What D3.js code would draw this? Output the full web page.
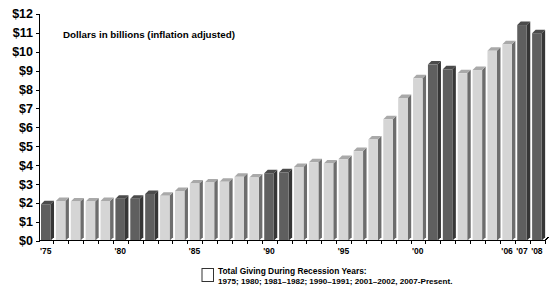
<!DOCTYPE html>
<html lang="en">
<head>
<meta charset="UTF-8">
<title>Giving in billions</title>
<script src="https://d3js.org/d3.v7.min.js"></script>
<style>
  body { margin: 0; background: #fff; }
  text { font-family: "Liberation Sans", Arial, sans-serif; font-weight: bold; fill: #000; }
  .axis path, .axis line { stroke: #000; shape-rendering: crispEdges; }
</style>
</head>
<body>
<script>

var years = d3.range(1975, 2009);
var values = [1.93, 2.1, 2.08, 2.07, 2.1, 2.22, 2.22, 2.47, 2.38, 2.63,
              3.02, 3.08, 3.12, 3.38, 3.34, 3.57, 3.62, 3.9, 4.15, 4.09,
              4.32, 4.74, 5.36, 6.43, 7.55, 8.6, 9.32, 9.07, 8.86, 9.03,
              10.05, 10.4, 11.41, 10.98];
var recessionYears = [1975, 1980, 1981, 1982, 1990, 1991, 2001, 2002, 2007, 2008];
var yTicks = [0, 1, 2, 3, 4, 5, 6, 7, 8, 9, 10, 11, 12];
var xLabels = {1975: "'75", 1980: "'80", 1985: "'85", 1990: "'90", 1995: "'95",
               2000: "'00", 2006: "'06", 2007: "'07", 2008: "'08"};

var data = years.map(function(y, i) { return {year: y, value: values[i]}; });

var width = 550, height = 290;
var x = d3.scaleBand().domain(years).range([39, 545]);
var y = d3.scaleLinear().domain([0, 12]).range([240.7, 13.9]);

var depth = 3.5, barW = x.bandwidth() * 0.64, off = 2;

var svg = d3.select("body").append("svg")
    .attr("width", width)
    .attr("height", height);

var colors = {
  light: {front: "#d5d5d5", side: "#6d6d6d", top: "#a9a9a9"},
  dark:  {front: "#5f5f5f", side: "#363636", top: "#4b4b4b"}
};

var bars = svg.selectAll(".bar")
    .data(data)
    .enter().append("g")
    .attr("class", "bar");

function col(d) { return recessionYears.indexOf(d.year) >= 0 ? colors.dark : colors.light; }

bars.append("path")
    .attr("fill", function(d) { return col(d).side; })
    .attr("d", function(d) {
      var x0 = x(d.year) + off + barW, y0 = y(d.value), yb = y(0);
      return "M" + x0 + "," + y0 + "L" + (x0 + depth) + "," + (y0 - depth) +
             "L" + (x0 + depth) + "," + (yb - depth) + "L" + x0 + "," + yb + "Z";
    });

bars.append("path")
    .attr("fill", function(d) { return col(d).top; })
    .attr("d", function(d) {
      var x0 = x(d.year) + off, y0 = y(d.value);
      return "M" + x0 + "," + y0 + "L" + (x0 + depth) + "," + (y0 - depth) +
             "L" + (x0 + barW + depth) + "," + (y0 - depth) + "L" + (x0 + barW) + "," + y0 + "Z";
    });

bars.append("rect")
    .attr("fill", function(d) { return col(d).front; })
    .attr("x", function(d) { return x(d.year) + off; })
    .attr("y", function(d) { return y(d.value); })
    .attr("width", barW)
    .attr("height", function(d) { return y(0) - y(d.value); });

// y axis
var yAxis = svg.append("g")
    .attr("class", "axis")
    .attr("transform", "translate(39,0)")
    .call(d3.axisLeft(y).tickValues(yTicks).tickSize(3).tickPadding(3)
      .tickFormat(function(d) { return "$" + d; }));
yAxis.selectAll("text").style("font-size", "12.5px");
yAxis.select(".domain").attr("stroke-width", 1.2);

// x axis: ticks at slot boundaries
var xAxis = svg.append("g").attr("class", "axis");
xAxis.append("line")
    .attr("x1", 39).attr("x2", 545)
    .attr("y1", y(0)).attr("y2", y(0))
    .attr("stroke-width", 1.2);
xAxis.append("path")
    .attr("fill", "none")
    .attr("stroke", "#000")
    .attr("d", "M545," + y(0) + "L" + (545 + depth) + "," + (y(0) - depth));
xAxis.selectAll(".tick")
    .data(years.slice(1).concat([2009]))
    .enter().append("line")
    .attr("x1", function(d) { return d === 2009 ? 545 : x(d); })
    .attr("x2", function(d) { return d === 2009 ? 545 : x(d); })
    .attr("y1", y(0)).attr("y2", y(0) + 3);
xAxis.selectAll(".lbl")
    .data(years.filter(function(d) { return xLabels[d]; }))
    .enter().append("text")
    .attr("x", function(d) { return x(d) + off + barW / 2; })
    .attr("y", 254)
    .attr("text-anchor", "middle")
    .style("font-size", "8.5px")
    .text(function(d) { return xLabels[d]; });

svg.append("text")
    .attr("x", 63).attr("y", 37.5)
    .style("font-size", "9.8px")
    .text("Dollars in billions (inflation adjusted)");

// legend
svg.append("rect")
    .attr("x", 202).attr("y", 268.5)
    .attr("width", 11.5).attr("height", 13)
    .attr("fill", "#fff")
    .attr("stroke", "#333");
svg.append("text")
    .attr("x", 218).attr("y", 274)
    .style("font-size", "8.4px")
    .text("Total Giving During Recession Years:");
svg.append("text")
    .attr("x", 218).attr("y", 283.5)
    .style("font-size", "8.1px")
    .text("1975; 1980; 1981–1982; 1990–1991; 2001–2002, 2007-Present.");

</script>
</body>
</html>
